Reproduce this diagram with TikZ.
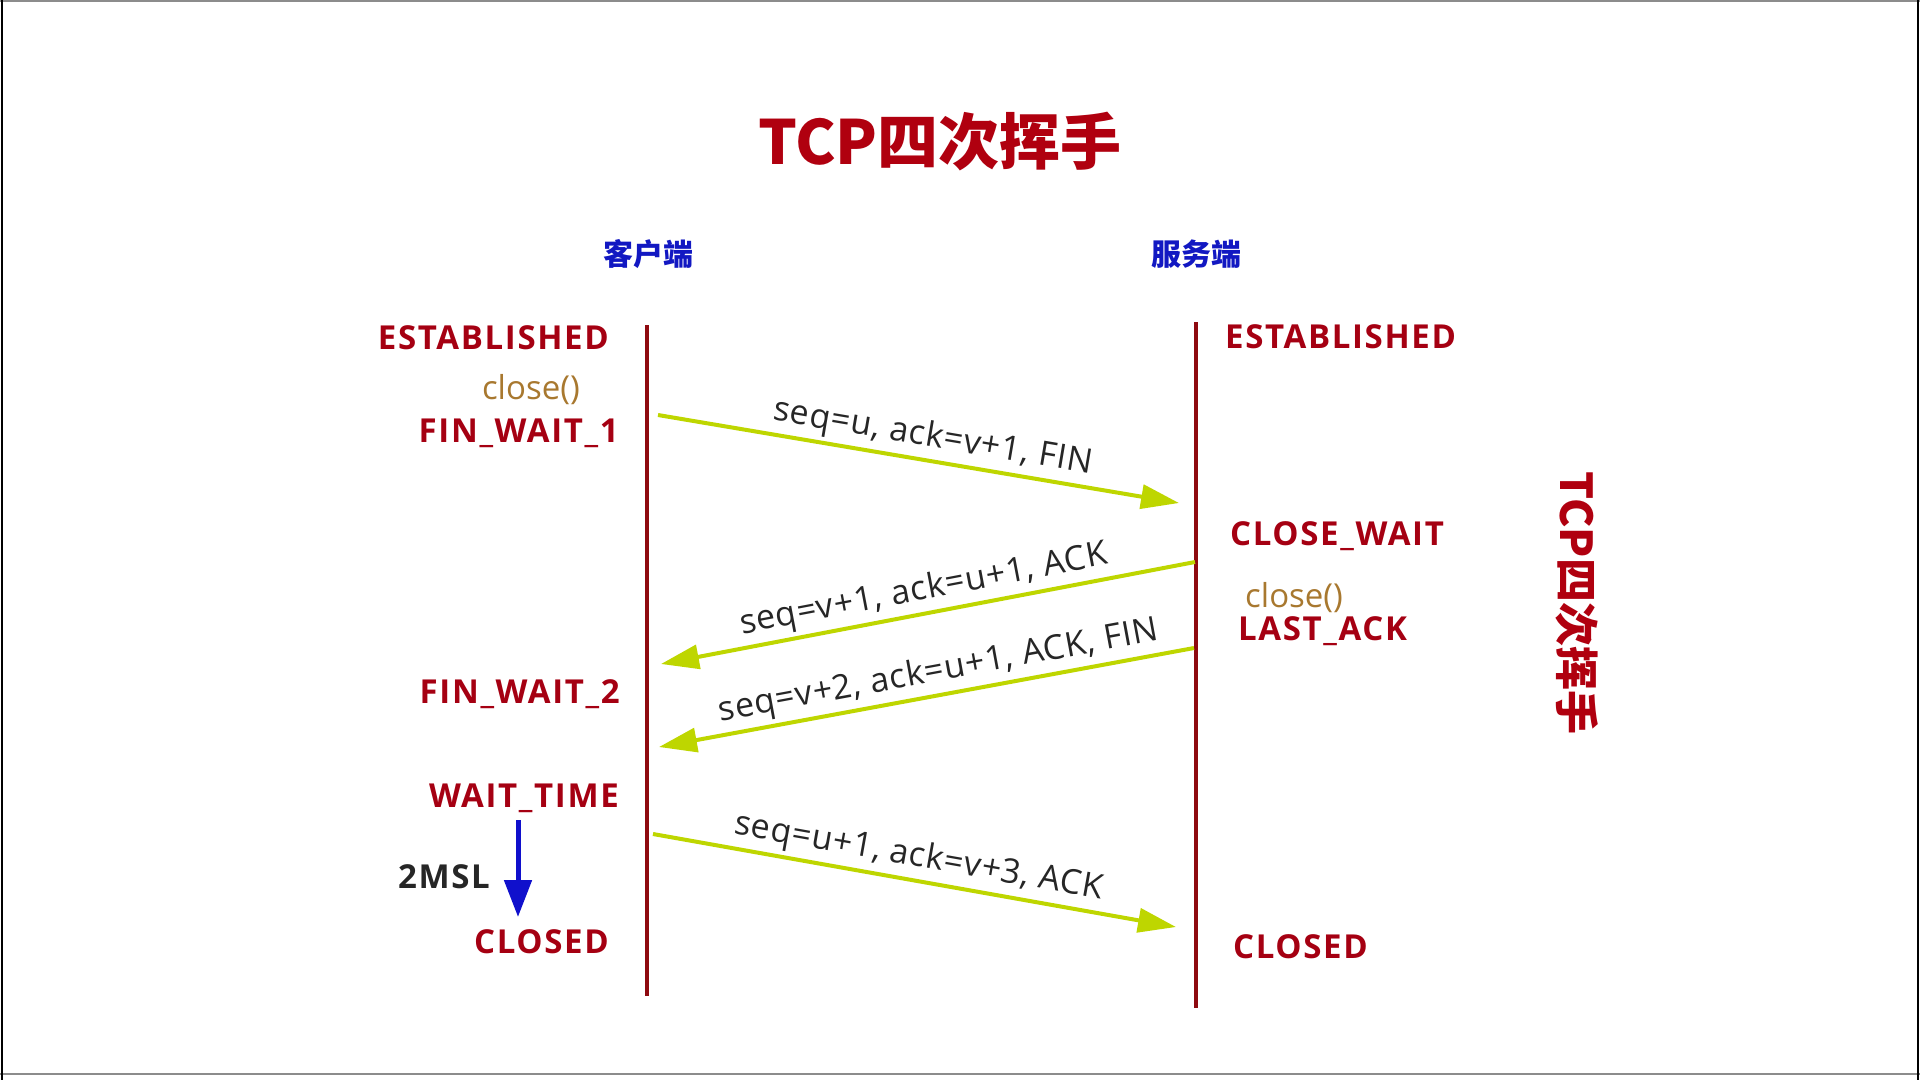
\documentclass[tikz,border=0pt]{standalone}
\usepackage{fontspec}
\setmainfont{Open Sans}
\newfontfamily\cjk{Noto Sans CJK SC}
\usetikzlibrary{arrows.meta}
\definecolor{Title}{HTML}{B0000F}
\definecolor{State}{HTML}{A50012}
\definecolor{Life}{HTML}{8E0A10}
\definecolor{Msg}{HTML}{BED600}
\definecolor{Call}{HTML}{A8782F}
\definecolor{Side}{HTML}{1218C2}
\definecolor{Timer}{HTML}{1010CC}
\definecolor{Ink}{HTML}{262626}

\begin{document}
\begin{tikzpicture}[x=1pt,y=-1pt,
    state/.style={inner sep=0pt,text=State,font=\fontsize{33}{40}\selectfont\bfseries\addfontfeature{LetterSpace=5}},
    call/.style={inner sep=0pt,text=Call,font=\fontsize{33}{40}\selectfont},
    side/.style={inner sep=0pt,text=Side,font=\cjk\bfseries\fontsize{30}{36}\selectfont},
    life/.style={Life,line width=4pt},
    msg/.style={Msg,line width=4pt,-{Triangle[length=38pt,width=24pt]}},
    msglabel/.style={sloped,above=4pt,inner sep=0pt,text=black!85,font=\fontsize{34}{40}\selectfont\addfontfeature{LetterSpace=2}}]
  \useasboundingbox (0,0) rectangle (1920,1080);
  % frame
  \draw[black!45,line width=1.5pt] (0,1) -- (1920,1) (0,1074) -- (1920,1074);
  \draw[black,line width=2pt] (2,0) -- (2,1080) (1918,0) -- (1918,1080);

  % titles
  \node[font=\cjk\bfseries\fontsize{61}{70}\selectfont,text=Title] (title) at (940,142) {TCP四次挥手};
  \node[font=\cjk\bfseries\fontsize{44}{50}\selectfont,text=Title,rotate=-90] (vtitle) at (1577,603) {TCP四次挥手};
  \node[side] (client) at (648,254) {客户端};
  \node[side] (server) at (1196,254) {服务端};

  % lifelines
  \coordinate (ctop) at (647,325);
  \coordinate (cbot) at (647,996);
  \coordinate (srvtop) at (1196,322);
  \coordinate (srvbot) at (1196,1008);
  \draw[life] (ctop) -- (cbot);
  \draw[life] (srvtop) -- (srvbot);

  % client states
  \node[state,anchor=base east] (cest) at (609,349) {ESTABLISHED};
  \node[call,anchor=base east] (cclose) at (580,399) {close()};
  \node[state,anchor=base east] (fw1) at (619,442) {FIN\_WAIT\_1};
  \node[state,anchor=base east] (fw2) at (620,703) {FIN\_WAIT\_2};
  \node[state,anchor=base east] (wt) at (619,807) {WAIT\_TIME};
  \node[state,anchor=base east,text=Ink] (msl) at (490,888) {2MSL};
  \node[state,anchor=base east] (cclosed) at (609,953) {CLOSED};

  % server states
  \node[state,anchor=base west] (sest) at (1225,348) {ESTABLISHED};
  \node[state,anchor=base west] (cw) at (1230,545) {CLOSE\_WAIT};
  \node[call,anchor=base west] (sclose) at (1245,607) {close()};
  \node[state,anchor=base west] (la) at (1238,640) {LAST\_ACK};
  \node[state,anchor=base west] (sclosed) at (1233,958) {CLOSED};

  % segments
  \coordinate (m1a) at (658,415);  \coordinate (m1b) at (1179,503);
  \coordinate (m2a) at (1195,562); \coordinate (m2b) at (661,664);
  \coordinate (m3a) at (1194,648); \coordinate (m3b) at (659,747);
  \coordinate (m4a) at (653,834);  \coordinate (m4b) at (1176,927);
  \draw[msg] (m1a) -- node[msglabel,pos=0.52] {seq=u, ack=v+1, FIN} (m1b);
  \draw[msg] (m2a) -- node[msglabel,pos=0.5] {seq=v+1, ack=u+1, ACK} (m2b);
  \draw[msg] (m3a) -- node[msglabel,pos=0.47] {seq=v+2, ack=u+1, ACK, FIN} (m3b);
  \draw[msg] (m4a) -- node[msglabel,pos=0.5] {seq=u+1, ack=v+3, ACK} (m4b);

  % 2MSL timer
  \coordinate (t1) at (518,820);
  \coordinate (t2) at (518,917);
  \draw[Timer,line width=5pt,-{Triangle[length=37pt,width=27pt]}] (t1) -- (t2);
\end{tikzpicture}
\end{document}
